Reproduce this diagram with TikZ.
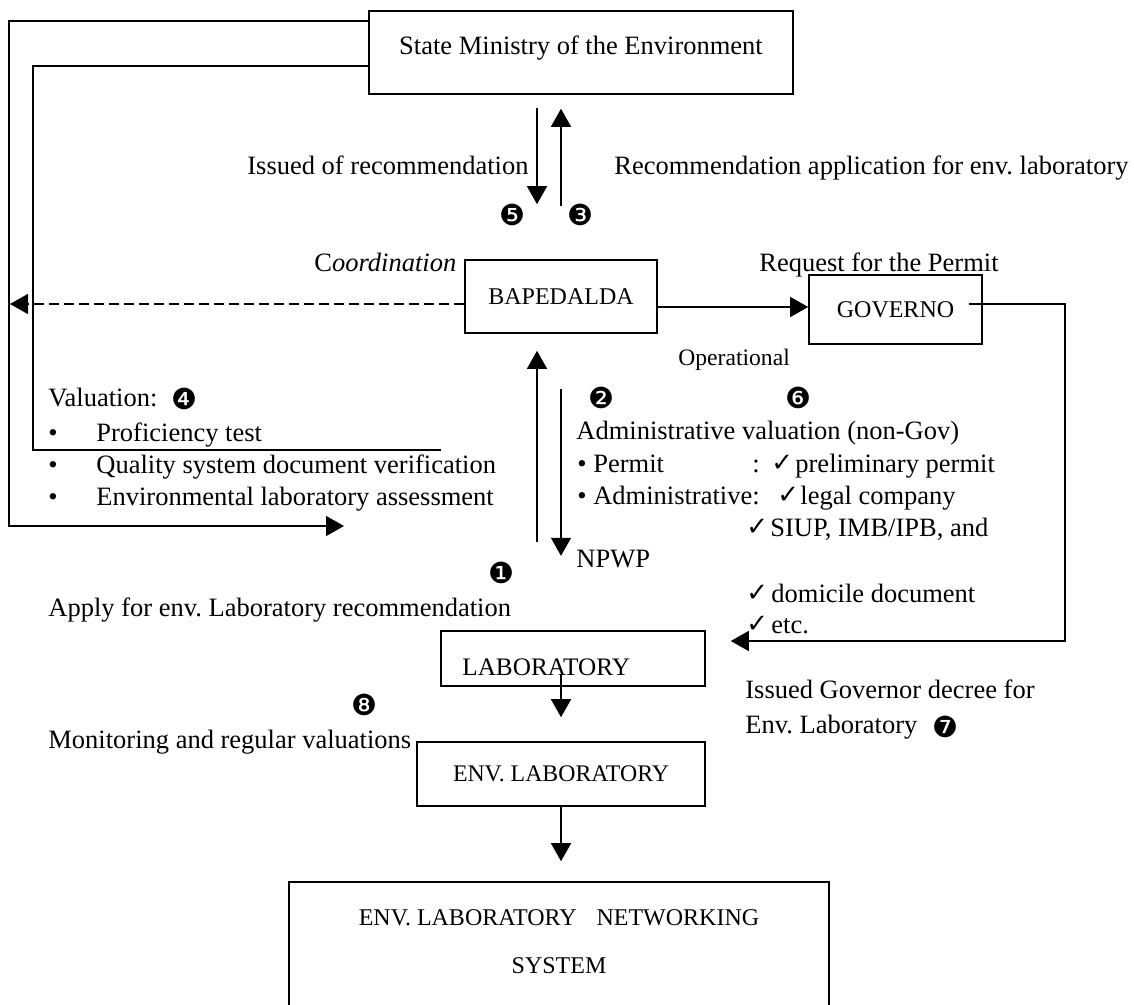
\documentclass[tikz,border=0pt]{standalone}
\usepackage{fontspec}
\setmainfont{Liberation Serif}
\newfontfamily\dingfont{DejaVu Sans}
\usetikzlibrary{arrows.meta, positioning, calc}
\frenchspacing

\tikzset{
  box/.style={draw, line width=0.8pt, inner sep=0pt, font=\fontsize{12}{14}\selectfont},
  txt/.style={inner sep=0pt, anchor=base west, font=\fontsize{13.25}{16}\selectfont},
  boxtxt/.style={inner sep=0pt, anchor=base west, font=\fontsize{12}{14}\selectfont},
  small/.style={txt, font=\fontsize{11.8}{14}\selectfont},
  num/.style={inner sep=0pt, font=\dingfont\fontsize{14.5}{14.5}\selectfont},
  tick/.style={inner sep=0pt, anchor=base west, font=\dingfont\fontsize{13}{13}\selectfont},
  wire/.style={line width=0.7pt},
  arr/.style={wire, -{Triangle[width=10pt,length=9pt]}},
}

\begin{document}
\begin{tikzpicture}[x=0.5pt, y=-0.5pt]
  \useasboundingbox (0,0) rectangle (1134,1005);
  \clip (0,0) rectangle (1134,1005);

  % Boxes
  \node[box, minimum width=212pt, minimum height=41.5pt] (ministry) at (581,52.5) {};
  \node[txt, anchor=base] (mintxt) at (581,55) {State Ministry of the Environment};
  \node[box, minimum width=96pt, minimum height=36.5pt] (bapedalda) at (561,296.5) {BAPEDALDA};
  \node[box, minimum width=86.5pt, minimum height=34.5pt] (governo) at (895.5,309.5) {GOVERNO};
  \node[box, minimum width=132pt, minimum height=27.5pt] (lab) at (573,658.5) {};
  \node[boxtxt, font=\fontsize{12.6}{14}\selectfont] (labtxt) at (462,675) {LABORATORY};
  \node[box, minimum width=144pt, minimum height=32pt, font=\fontsize{11.9}{14}\selectfont] (envlab) at (561,774) {ENV. LABORATORY};
  \node[box, minimum width=270pt, minimum height=79pt] (network) at (559,961) {};
  \node[boxtxt, anchor=base] (nettxt) at (559,925) {ENV. LABORATORY\hspace{10pt}NETWORKING};
  \node[boxtxt, anchor=base] (systxt) at (559,973) {SYSTEM};

  % Free ends
  \coordinate (coordEnd) at (10,304);
  \coordinate (outerCorner) at (9,526);
  \coordinate (valEnd) at (344,526);
  \coordinate (innerCorner) at (33,450);
  \coordinate (innerEnd) at (441,450);
  \coordinate (govCorner) at (1065,641);

  % Ministry <-> BAPEDALDA
  \draw[arr] ($(ministry.south)+(-44,13)$) -- ($(bapedalda.north)+(-24,-55)$);
  \draw[arr] ($(bapedalda.north)+(0,-53)$) -- ($(ministry.south)+(-20,14)$);

  % valuation loops
  \draw[arr] ($(ministry.north west)+(0,11)$) -| (outerCorner) -- (valEnd);
  \draw[wire] ($(ministry.north west)+(0,56)$) -| (innerCorner) -- (innerEnd);
  \draw[arr, dash pattern=on 5pt off 2.5pt] ($(bapedalda.west)+(0,7.5)$) -- (coordEnd);

  % BAPEDALDA -> GOVERNO -> LABORATORY
  \draw[arr] ($(bapedalda.east)+(0,10.5)$) coordinate (bg) -- (bg -| governo.west);
  \draw[arr] ($(governo.east)+(-14,-5.5)$) -| (govCorner) -- ($(lab.east)+(25,-17.5)$);

  % LABORATORY <-> BAPEDALDA
  \draw[arr] ($(bapedalda.south)+(-24,208)$) -- ($(bapedalda.south)+(-24,17)$);
  \draw[arr] ($(bapedalda.south)+(0,55)$) -- ($(bapedalda.south)+(0,222)$);

  % down the chain
  \draw[arr] ($(lab.south)+(-12,-13)$) -- ($(envlab.north)+(0,-24)$);
  \draw[arr] (envlab.south) -- ($(network.north)+(2,-20)$);

  % Labels
  \node[txt] (issued) at (247,175) {Issued of recommendation};
  \node[txt] (recapp) at (614,175) {Recommendation application for env. laboratory};
  \node[txt] (coord) at (314,272) {C\textit{oordination}};
  \node[txt] (request) at (759,272) {Request for the Permit};
  \node[small] (oper) at (678,365) {Operational};

  \node[txt] (valuation) at (48,407) {Valuation:};
  \node[txt] (b1) at (48,441) {•};
  \node[txt] (v1) at (96,441) {Proficiency test};
  \node[txt] (b2) at (48,473) {•};
  \node[txt] (v2) at (96,473) {Quality system document verification};
  \node[txt] (b3) at (48,505) {•};
  \node[txt] (v3) at (96,505) {Environmental laboratory assessment};

  \node[txt] (admin) at (576,439) {Administrative valuation (non-Gov)};
  \node[txt] (permit) at (577,472) {• Permit};
  \node[txt] (colon) at (752,472) {:};
  \node[tick] (t1) at (771,471) {✓};
  \node[txt] (prelim) at (795,472) {preliminary permit};
  \node[txt] (adm2) at (577,504) {• Administrative:};
  \node[tick] (t2) at (777,503) {✓};
  \node[txt] (legal) at (800,504) {legal company};
  \node[tick] (t3) at (746,535) {✓};
  \node[txt] (siup) at (770,536) {SIUP, IMB/IPB, and};
  \node[txt] (npwp) at (576,567) {NPWP};
  \node[tick] (t4) at (746,601) {✓};
  \node[txt] (domicile) at (771,602) {domicile document};
  \node[tick] (t5) at (746,632) {✓};
  \node[txt] (etc) at (771,633) {etc.};

  \node[txt] (apply) at (48,616) {Apply for env. Laboratory recommendation};
  \node[txt] (decree) at (745,698) {Issued Governor decree for};
  \node[txt] (decree2) at (745,733) {Env. Laboratory};
  \node[txt] (monitor) at (48,748) {Monitoring and regular valuations};

  % step numbers
  \node[num] (n1) at (501,573) {❶};
  \node[num] (n2) at (601,398) {❷};
  \node[num] (n3) at (580,215) {❸};
  \node[num] (n4) at (184,399) {❹};
  \node[num] (n5) at (512,215) {❺};
  \node[num] (n6) at (798,398) {❻};
  \node[num] (n7) at (945,727) {❼};
  \node[num] (n8) at (364,705) {❽};
\end{tikzpicture}
\end{document}
